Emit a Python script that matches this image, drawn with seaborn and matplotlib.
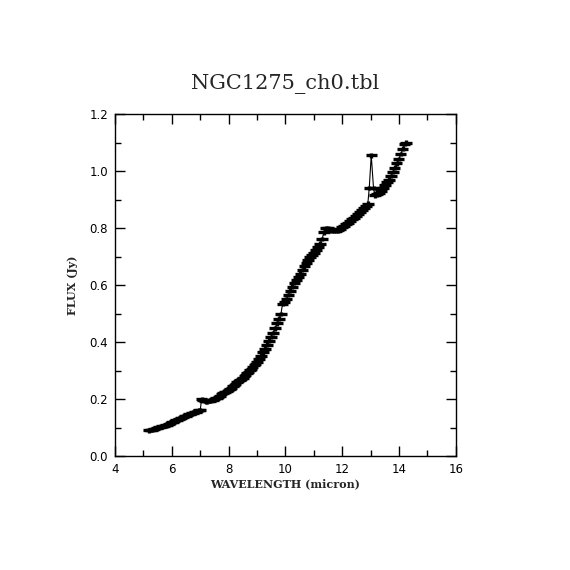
import matplotlib
matplotlib.use("Agg")
import matplotlib.pyplot as plt
from matplotlib.ticker import MultipleLocator, FormatStrFormatter
import seaborn as sns
import pandas as pd

wavelength = [5.20, 5.25, 5.30, 5.35, 5.40, 5.45, 5.50, 5.55, 5.60, 5.65,
              5.70, 5.75, 5.80, 5.85, 5.90, 5.95, 6.00, 6.05, 6.10, 6.15,
              6.20, 6.25, 6.30, 6.35, 6.40, 6.45, 6.50, 6.55, 6.60, 6.65,
              6.70, 6.75, 6.80, 6.85, 6.90, 6.95, 7.00, 7.05,
              7.10, 7.15, 7.20, 7.25, 7.30, 7.35, 7.40, 7.45, 7.50, 7.55,
              7.60, 7.65, 7.70, 7.75, 7.80, 7.85, 7.90, 7.95, 8.00, 8.05,
              8.10, 8.15, 8.20, 8.25, 8.30, 8.35, 8.40, 8.45, 8.50, 8.55,
              8.60, 8.65, 8.70, 8.75, 8.80, 8.85, 8.90, 8.95, 9.00,
              9.07, 9.14, 9.21, 9.28, 9.35, 9.42, 9.49, 9.56, 9.63, 9.70,
              9.77, 9.84, 9.90, 9.96, 10.03, 10.10, 10.17, 10.24, 10.31, 10.38,
              10.45, 10.52, 10.59, 10.66, 10.73, 10.80, 10.87, 10.94, 11.01, 11.08,
              11.15, 11.22, 11.29, 11.36, 11.43, 11.50, 11.57, 11.64, 11.71, 11.78,
              11.85, 11.92, 11.99, 12.06, 12.13, 12.20, 12.27, 12.34, 12.41, 12.48,
              12.55, 12.62, 12.69, 12.76, 12.83, 12.90, 12.95,
              13.02, 13.10, 13.15, 13.22, 13.29, 13.36, 13.43, 13.50, 13.57, 13.64,
              13.71, 13.78, 13.85, 13.92, 13.99, 14.06, 14.13, 14.20, 14.25]
flux = [0.090, 0.091, 0.092, 0.094, 0.095, 0.097, 0.100, 0.101, 0.102, 0.104,
        0.105, 0.106, 0.108, 0.110, 0.112, 0.115, 0.118, 0.121, 0.124, 0.126,
        0.128, 0.130, 0.132, 0.135, 0.137, 0.140, 0.142, 0.144, 0.146, 0.148,
        0.150, 0.151, 0.153, 0.156, 0.158, 0.160, 0.162, 0.200,
        0.196, 0.194, 0.192, 0.192, 0.193, 0.194, 0.196, 0.198, 0.200, 0.202,
        0.205, 0.208, 0.212, 0.216, 0.220, 0.223, 0.226, 0.229, 0.232, 0.236,
        0.240, 0.245, 0.250, 0.254, 0.258, 0.262, 0.266, 0.270, 0.275, 0.280,
        0.285, 0.290, 0.296, 0.301, 0.307, 0.312, 0.318, 0.324, 0.330,
        0.340, 0.352, 0.364, 0.377, 0.391, 0.405, 0.418, 0.432, 0.448, 0.465,
        0.482, 0.498, 0.535, 0.540, 0.550, 0.565, 0.580, 0.594, 0.608, 0.618,
        0.628, 0.640, 0.653, 0.665, 0.677, 0.688, 0.697, 0.705, 0.712, 0.724,
        0.735, 0.745, 0.762, 0.785, 0.800, 0.800, 0.796, 0.792, 0.790, 0.790,
        0.792, 0.797, 0.803, 0.808, 0.813, 0.818, 0.823, 0.830, 0.836, 0.843,
        0.850, 0.856, 0.862, 0.869, 0.877, 0.885, 0.940,
        1.055, 0.940, 0.915, 0.918, 0.922, 0.930, 0.940, 0.950, 0.960, 0.970,
        0.982, 0.996, 1.012, 1.027, 1.042, 1.060, 1.078, 1.094, 1.100]
flux_err = [0.008] * len(flux)

df = pd.DataFrame({"wavelength": wavelength, "flux": flux, "err": flux_err})

sns.set_style("ticks")
plt.rcParams["font.family"] = ["DejaVu Serif"]

fig = plt.figure(figsize=(5.7, 5.7), dpi=100)
ax = fig.add_axes([0.2018, 0.2, 0.598, 0.6])

sns.lineplot(data=df, x="wavelength", y="flux", sort=False, ax=ax,
             color="black", linewidth=0.8, estimator=None)
ax.errorbar(df["wavelength"], df["flux"], xerr=0.2, yerr=df["err"],
            fmt="none", ecolor="black", elinewidth=2.4, capsize=0)

ax.set_xlim(4, 16)
ax.set_ylim(0, 1.2)
ax.xaxis.set_major_locator(MultipleLocator(2))
ax.xaxis.set_minor_locator(MultipleLocator(1))
ax.yaxis.set_major_locator(MultipleLocator(0.2))
ax.yaxis.set_minor_locator(MultipleLocator(0.1))
ax.yaxis.set_major_formatter(FormatStrFormatter("%.1f"))
ax.tick_params(which="both", direction="in", top=True, right=True,
               labelsize=8.5, width=1, colors="black")
ax.tick_params(which="major", length=7, pad=5)
ax.tick_params(which="minor", length=4)
for lab in ax.get_xticklabels() + ax.get_yticklabels():
    lab.set_family("DejaVu Sans")
for s in ax.spines.values():
    s.set_linewidth(1)
    s.set_color("black")

ax.set_xlabel("WAVELENGTH (micron)", fontsize=8, fontweight="bold", labelpad=2)
ax.set_ylabel("FLUX (Jy)", fontsize=8, fontweight="bold", labelpad=8)
ax.set_title("NGC1275_ch0.tbl", fontsize=15, pad=18)

fig.savefig("out.png", dpi=100, facecolor="white")
